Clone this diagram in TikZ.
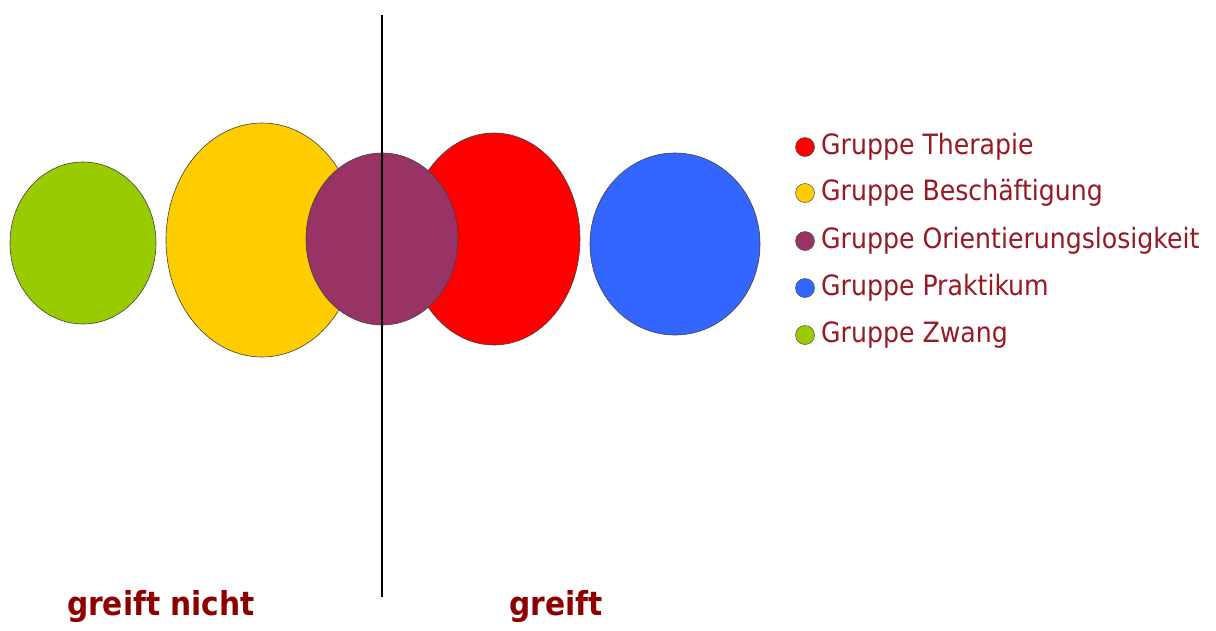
\documentclass[tikz,border=0pt]{standalone}
\usepackage{fontspec}
\setmainfont{DejaVu Sans Condensed}
\definecolor{cgreen}{RGB}{153,204,0}
\definecolor{cyellow}{RGB}{255,204,0}
\definecolor{cpurple}{RGB}{153,51,102}
\definecolor{cred}{RGB}{255,0,0}
\definecolor{cblue}{RGB}{51,102,255}
\definecolor{ctext}{RGB}{150,25,35}
\definecolor{clabel}{RGB}{140,0,0}
\begin{document}
\begin{tikzpicture}[x=1pt,y=-1pt,
  blob/.style={draw=black!75,line width=0.6pt},
  dot/.style={circle,draw=black!70,line width=0.5pt,minimum size=19pt,inner sep=0pt},
  legtext/.style={anchor=west,text=ctext,font=\fontsize{28}{30}\selectfont,inner sep=0pt},
  sidelabel/.style={text=clabel,font=\bfseries\fontsize{33}{36}\selectfont,inner sep=0pt}]
\useasboundingbox[fill=white] (0,0) rectangle (1216,630);
% ellipses
\draw[blob,fill=cgreen] (83,243) ellipse [x radius=73, y radius=81];
\draw[blob,fill=cyellow] (262,240) ellipse [x radius=96, y radius=117];
\draw[blob,fill=cred] (494,239) ellipse [x radius=86, y radius=106];
\draw[blob,fill=cpurple] (382,239) ellipse [x radius=76, y radius=86];
\draw[blob,fill=cblue] (675,244) ellipse [x radius=85, y radius=91];
% divider
\coordinate (top) at (382,15);
\coordinate (bot) at (382,597);
\draw[line width=2pt,black] (top) -- (bot);
% legend
\node[dot,fill=cred] (d1) at (805,147) {};
\node[dot,fill=cyellow] (d2) at (805,193) {};
\node[dot,fill=cpurple] (d3) at (805,241) {};
\node[dot,fill=cblue] (d4) at (805,288) {};
\node[dot,fill=cgreen] (d5) at (805,335) {};
\node[legtext] (t1) at (821,147) {Gruppe Therapie};
\node[legtext] (t2) at (821,193) {Gruppe Beschäftigung};
\node[legtext] (t3) at (821,241) {Gruppe Orientierungslosigkeit};
\node[legtext] (t4) at (821,288) {Gruppe Praktikum};
\node[legtext] (t5) at (821,335) {Gruppe Zwang};
% bottom labels
\node[sidelabel] (l1) at (161,607) {greift nicht};
\node[sidelabel] (l2) at (556,607) {greift};
\end{tikzpicture}
\end{document}
